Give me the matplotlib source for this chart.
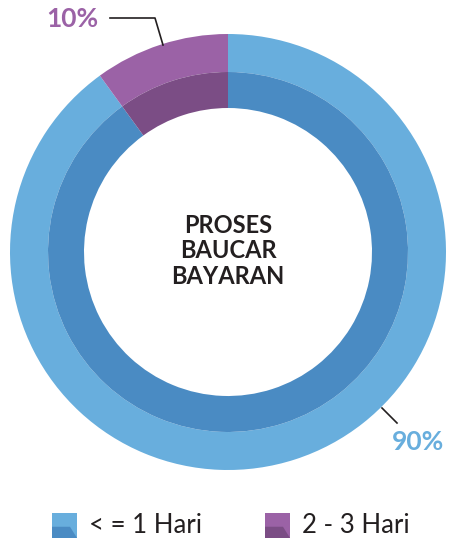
import matplotlib
matplotlib.use("Agg")
import matplotlib.pyplot as plt
from matplotlib.patches import Polygon, Rectangle

plt.rcParams['font.family'] = ['Lato', 'DejaVu Sans']

# data
categories = ["< = 1 Hari", "2 - 3 Hari"]
values = [90, 10]
pct_labels = ["90%", "10%"]
title_lines = ["PROSES", "BAUCAR", "BAYARAN"]

outer_colors = ["#68aedd", "#9b62a6"]
inner_colors = ["#4a8bc3", "#7b4d85"]

W, H = 449, 541
fig = plt.figure(figsize=(W / 100, H / 100), dpi=100)
ax = fig.add_axes([0, 0, 1, 1])
ax.set_xlim(0, W)
ax.set_ylim(0, H)
ax.set_aspect("equal")
ax.axis("off")

cx, cy = 228, H - 252

# outer ring
ax.pie(values, colors=outer_colors, radius=218, center=(cx, cy),
       startangle=90, counterclock=False,
       wedgeprops=dict(width=38, edgecolor="none", linewidth=0))
# inner ring
ax.pie(values, colors=inner_colors, radius=180, center=(cx, cy),
       startangle=90, counterclock=False,
       wedgeprops=dict(width=36, edgecolor="none", linewidth=0))
ax.set_xlim(0, W)
ax.set_ylim(0, H)

# centre text
ax.text(cx, cy + 1, "\n".join(title_lines), ha="center", va="center",
        fontsize=17, fontweight="bold", color="#231f20", linespacing=1.12)

# percentage labels with leader lines
ax.plot([110, 155, 163], [H - 18, H - 18, H - 45], color="#231f20", lw=1.2)
ax.text(72, H - 19, pct_labels[1], ha="center", va="center",
        fontsize=19, fontweight="bold", color=outer_colors[1])
ax.plot([382, 397], [H - 408, H - 423], color="#231f20", lw=1.2)
ax.text(418, H - 442, pct_labels[0], ha="center", va="center",
        fontsize=19, fontweight="bold", color=outer_colors[0])

# legend with two-tone squares
leg_x = [52, 265]
for i, lab in enumerate(categories):
    x0 = leg_x[i]
    y0 = H - 538
    s = 25
    ax.add_patch(Rectangle((x0, y0), s, s, color=outer_colors[i], lw=0))
    ax.add_patch(Polygon([(x0, y0), (x0 + s, y0), (x0 + s * 0.72, y0 + s * 0.45),
                          (x0, y0 + s * 0.45)], closed=True,
                         color=inner_colors[i], lw=0))
    ax.text(x0 + 37, y0 + s / 2, lab, ha="left", va="center",
            fontsize=18.5, color="#231f20")

fig.savefig("out.png", dpi=100)
